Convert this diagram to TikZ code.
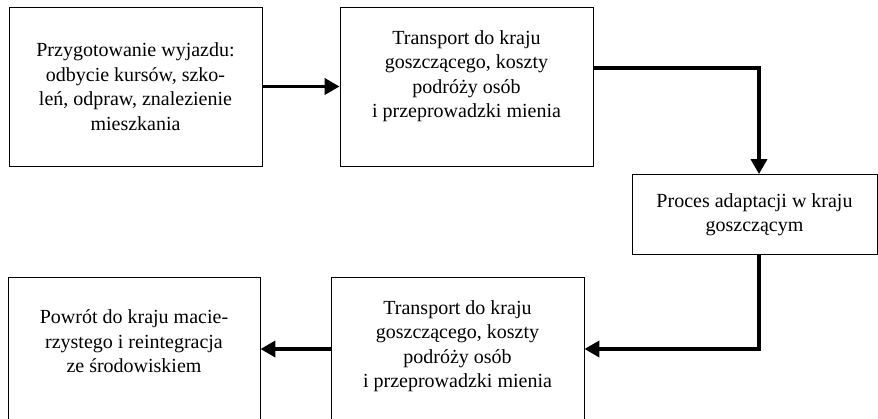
\documentclass[tikz,border=0pt]{standalone}
\usepackage{fontspec}
\setmainfont{Liberation Serif}
\usetikzlibrary{arrows.meta}

\begin{document}
\begin{tikzpicture}[x=1pt,y=-1pt,
    box/.style={draw,line width=0.9pt,align=center,inner sep=0pt,
      minimum width=253pt,minimum height=159pt,
      font=\fontsize{20}{24.5}\selectfont},
    arr/.style={line width=3.8pt,-{Triangle[length=15pt,width=16pt]}}]
    \useasboundingbox (0,0) rectangle (878,418);
    \clip (0,0) rectangle (878,418);
    \node[box] (prep) at (135.5,86.5) {Przygotowanie wyjazdu:\\ odbycie kursów, szko-\\ leń, odpraw, znalezienie\\ mieszkania};
    \node[box] (trans) at (466.5,86.5) {Transport do kraju\\ goszczącego, koszty\\ podróży osób\\ i przeprowadzki mienia\\ \mbox{}};
    \node[box,minimum width=245pt,minimum height=80pt] (adapt) at (754.5,214.5) {Proces adaptacji w kraju\\ goszczącym};
    \node[box] (back) at (457.5,356.5) {Transport do kraju\\ goszczącego, koszty\\ podróży osób\\ i przeprowadzki mienia\\ \mbox{}};
    \node[box,minimum width=252pt] (home) at (134,356.5) {Powrót do kraju macie-\\ rzystego i reintegracja\\ ze środowiskiem\\[5.5pt] \mbox{}};
    \draw[arr] (prep) -- (trans);
    \draw[arr] ([yshift=18.5pt]trans.east) -| ([xshift=4.5pt]adapt.north);
    \draw[arr] ([xshift=4.5pt]adapt.south) |- ([yshift=7.5pt]back.east);
    \draw[arr] ([yshift=7.5pt]back.west) -- ([yshift=7.5pt]home.east);
\end{tikzpicture}
\end{document}
